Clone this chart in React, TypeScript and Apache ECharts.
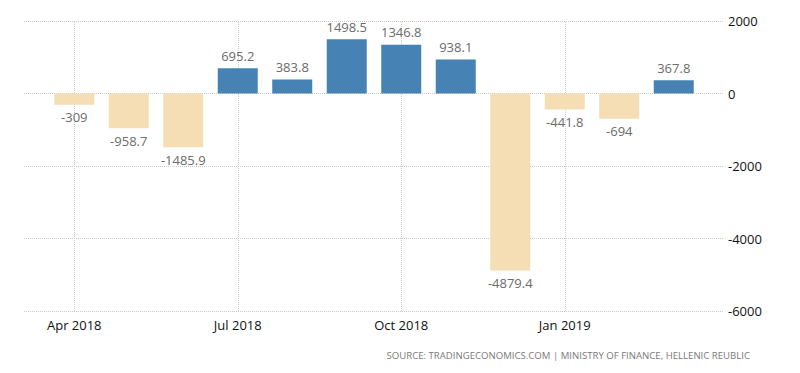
import React, { useEffect, useRef } from "react";
import * as echarts from "echarts";

const months = ["Apr 2018", "May 2018", "Jun 2018", "Jul 2018", "Aug 2018", "Sep 2018", "Oct 2018", "Nov 2018", "Dec 2018", "Jan 2019", "Feb 2019", "Mar 2019"];
const values = [-309, -958.7, -1485.9, 695.2, 383.8, 1498.5, 1346.8, 938.1, -4879.4, -441.8, -694, 367.8];
const gridMonths = ["Apr 2018", "Jul 2018", "Oct 2018", "Jan 2019"];
const yMin = -6000;
const yMax = 2000;
const yStep = 2000;
const sourceText = "SOURCE: TRADINGECONOMICS.COM | MINISTRY OF FINANCE, HELLENIC REUBLIC";

const POS = "#4682b4";
const NEG = "#f5deb3";
const FONT = "'Open Sans', 'Noto Sans', sans-serif";

export default function App() {
  const ref = useRef<HTMLDivElement>(null);
  useEffect(() => {
    if (!ref.current) return;
    const chart = echarts.init(ref.current, null, { renderer: "svg" });
    chart.setOption({
      animation: false,
      backgroundColor: "#ffffff",
      textStyle: { fontFamily: FONT },
      grid: [
        { left: 24, right: 77, top: 21, bottom: 62 },
        { left: 47, right: 99, top: 21, bottom: 62 },
      ],
      xAxis: [
        { type: "value", gridIndex: 0, min: 0, max: 1, show: false },
        {
          type: "category",
          gridIndex: 1,
          data: months,
          axisLine: { show: false },
          axisTick: { show: false },
          splitLine: { show: false },
          axisLabel: {
            interval: 2,
            color: "#111",
            fontSize: 13,
            margin: 7,
            fontFamily: FONT,
          },
        },
      ],
      yAxis: [
        {
          type: "value",
          gridIndex: 0,
          position: "right",
          min: yMin,
          max: yMax,
          interval: yStep,
          axisLine: { show: false },
          axisTick: { show: false },
          axisLabel: {
            color: "#111",
            fontSize: 13,
            margin: 5,
            fontFamily: FONT,
            formatter: (v: number) => String(v),
          },
          splitLine: { show: true, lineStyle: { type: "dotted", color: "#c8c8c8", width: 1 } },
        },
        {
          type: "value",
          gridIndex: 1,
          min: yMin,
          max: yMax,
          interval: yStep,
          show: false,
          splitLine: { show: false },
        },
      ],
      series: [
        {
          type: "bar",
          xAxisIndex: 1,
          yAxisIndex: 1,
          barWidth: 40,
          z: 3,
          data: values.map((v) => ({
            value: v,
            itemStyle: { color: v >= 0 ? POS : NEG },
            label: {
              show: true,
              position: v >= 0 ? "top" : "bottom",
              distance: 6,
              color: "#6b6b6b",
              fontSize: 13,
              fontFamily: FONT,
            },
          })),
          markLine: {
            silent: true,
            symbol: "none",
            z: 1,
            label: { show: false },
            lineStyle: { type: "dotted", color: "#c8c8c8", width: 1 },
            data: gridMonths.map((m) => ({ xAxis: m })),
          },
        },
      ],
      graphic: [
        {
          type: "text",
          right: 50,
          top: 350,
          style: {
            text: sourceText,
            fill: "#7a7a7a",
            fontSize: 9.6,
            fontFamily: FONT,
          },
        },
      ],
    });
    return () => chart.dispose();
  }, []);
  return <div ref={ref} style={{ position: "fixed", left: 0, top: 0, width: 800, height: 373 }} />;
}
